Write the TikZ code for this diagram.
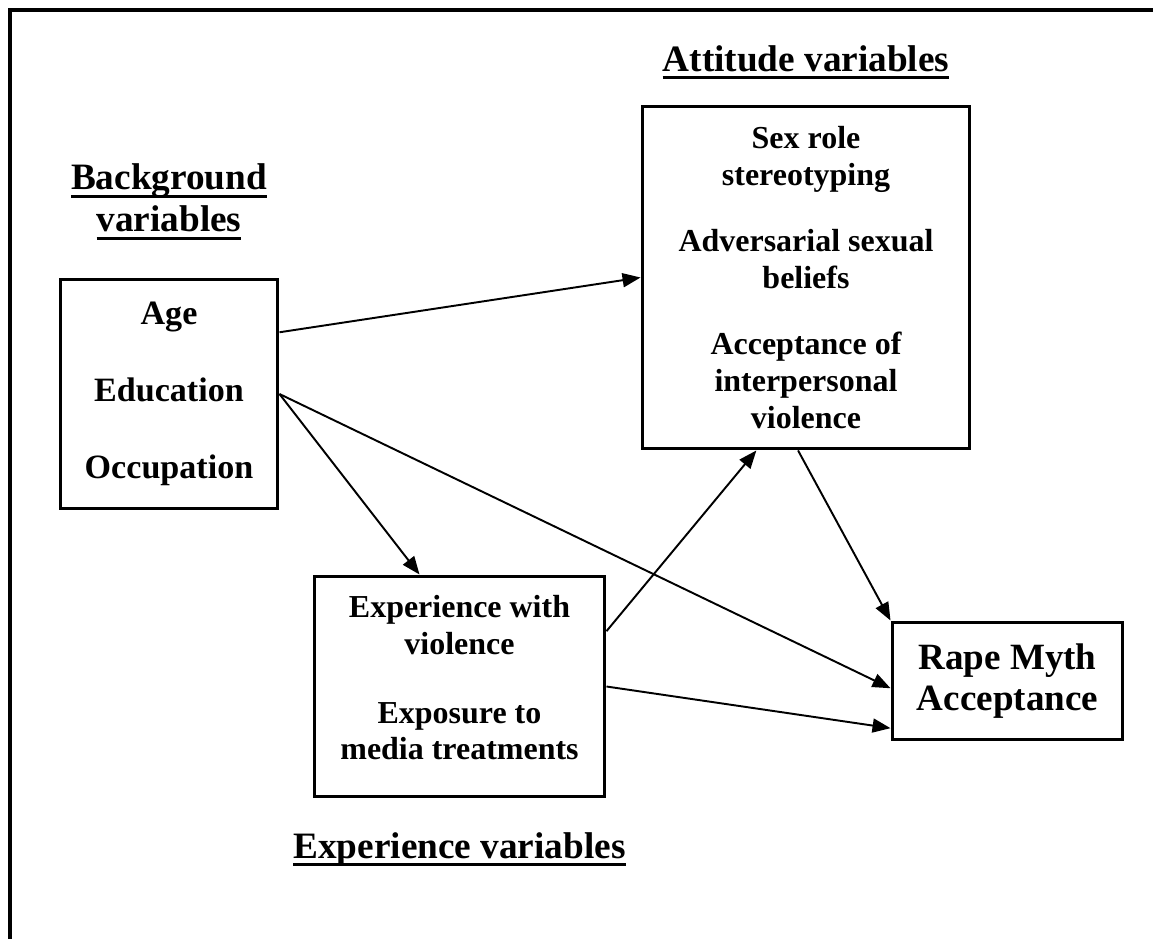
\documentclass[tikz,border=0pt]{standalone}
\usepackage{fontspec}
\setmainfont{Liberation Serif}
\usetikzlibrary{arrows.meta,positioning,calc}
% underline for the headings
\newcommand{\hul}[1]{\leavevmode\setbox0=\hbox{#1}%
  \rlap{\rule[-4.5pt]{\wd0}{1.7pt}}\box0}
\tikzset{
  varbox/.style={rectangle,draw=black,line width=1.7pt,align=center,
                 inner sep=0pt,font=\bfseries\fontsize{18.2}{20.8}\selectfont},
  headtxt/.style={align=center,inner sep=0pt,
                  font=\bfseries\fontsize{21.2}{23.9}\selectfont},
  arr/.style={-{Triangle[length=0.36cm,width=0.28cm]},line width=1.1pt},
  framelin/.style={line width=2.7pt}
}

\begin{document}
\begin{tikzpicture}[x=0.02cm,y=-0.02cm]
  \useasboundingbox (0,0) rectangle (1153,939);
  \draw[framelin] (10,939)--(10,10)--(1153,10);

  \node[varbox,minimum width=4.36cm,minimum height=4.6cm,
        font=\bfseries\fontsize{19.4}{44}\selectfont] (bg) at (169,394)
      {Age\\Education\\Occupation};
  \node[varbox,minimum width=6.56cm,minimum height=6.86cm] (att) at (806,277.5)
      {Sex role\\stereotyping\\[0.6cm]
       Adversarial sexual\\beliefs\\[0.6cm]
       Acceptance of\\interpersonal\\violence};
  \node[varbox,minimum width=5.82cm,minimum height=4.42cm] (exp) at (459.5,686.5)
      {Experience with\\violence\\[0.65cm]
       Exposure to\\media treatments\\[-0.37cm]};
  \node[varbox,minimum width=4.62cm,minimum height=2.36cm,
        font=\bfseries\fontsize{21.1}{23.3}\selectfont] (rma) at (1007.5,681)
      {Rape Myth\\Acceptance};

  \node[headtxt,anchor=south] (bghead) at ([yshift=0.75cm]bg.north)
      {\hul{Background}\\\hul{variables}};
  \node[headtxt,anchor=base] (atthead) at ([yshift=0.66cm]att.north)
      {\hul{Attitude variables}};
  \node[headtxt,anchor=base] (exphead) at ([yshift=-1.2cm]exp.south)
      {\hul{Experience variables}};

  \draw[arr] ($(bg.north east)!0.235!(bg.south east)$)--(att.west);
  \draw[arr] (bg.east)--($(exp.north west)!0.364!(exp.north east)$);
  \draw[arr] (bg.east)--($(rma.north west)!0.56!(rma.south west)$);
  \draw[arr] ($(exp.north east)!0.253!(exp.south east)$)
      --($(att.south west)!0.35!(att.south east)$);
  \draw[arr] ($(att.south west)!0.476!(att.south east)$)--(rma.north west);
  \draw[arr] (exp.east)--($(rma.north west)!0.89!(rma.south west)$);
\end{tikzpicture}
\end{document}
